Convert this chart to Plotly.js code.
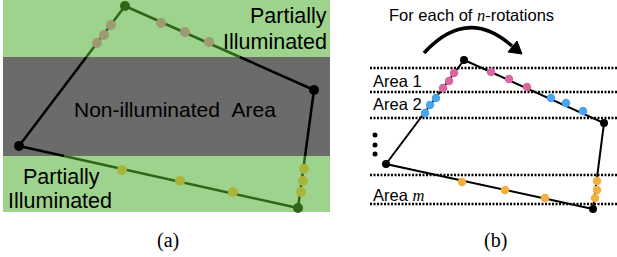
<!DOCTYPE html>
<html><head><meta charset="utf-8">
<script src="https://cdn.plot.ly/plotly-3.0.1.min.js"></script>
<style>html,body{margin:0;padding:0;background:#fff;}#chart{width:617px;height:257px;}</style>
</head><body><div id="chart"></div>
<script>
// ---------- Panel (a) data ----------
const bandA_x = [3, 330];
const bandA_greenTop = [0, 57];
const bandA_gray = [57, 156];
const bandA_greenBottom = [156, 212];
const polyA_x = [125, 314, 298, 19];
const polyA_y = [6, 90, 208, 146];
const polyA_vertexColors = ['#2e6619', '#000000', '#2e6619', '#000000'];
const dotsA_top_x = [111, 104, 97, 161, 185, 209];
const dotsA_top_y = [25, 35, 43, 23, 32, 42];
const dotsA_bot_x = [122, 180, 233, 304, 303, 301];
const dotsA_bot_y = [170, 181, 192, 169, 181, 192];

// ---------- Panel (b) data ----------
const areaLines_y = [68, 92, 118, 175, 204];
const areaLines_x = [370, 617];
const polyB_x = [464, 604, 593, 386];
const polyB_y = [60, 123, 209, 164];
const dotsB_pink_x = [454, 449, 443, 491, 509, 527];
const dotsB_pink_y = [73, 81, 88, 72, 79, 87];
const dotsB_blue_x = [436, 430, 425, 551, 566, 583];
const dotsB_blue_y = [98, 105, 113, 98, 103, 111];
const dotsB_orange_x = [462, 505, 545, 597, 597, 595];
const dotsB_orange_y = [182, 190, 198, 181, 190, 198];
const ellipsis_x = [375, 375, 375];
const ellipsis_y = [135, 145, 154];
const arc_path = [[424, 53], [467, 6], [512, 46]];
const arrowHead = [[522, 54], [517, 41], [508, 52]];

const GREEN_BG = '#9dd38d';
const GRAY_BG = '#6b6b6b';
const DARK_GREEN = '#2e6619';

const traces = [];
const shapes = [];

// bands (a)
shapes.push({type:'rect', xref:'x', yref:'y', x0:bandA_x[0], x1:bandA_x[1], y0:bandA_greenTop[0], y1:bandA_greenTop[1], fillcolor:GREEN_BG, line:{width:0}, layer:'below'});
shapes.push({type:'rect', xref:'x', yref:'y', x0:bandA_x[0], x1:bandA_x[1], y0:bandA_gray[0], y1:bandA_gray[1], fillcolor:GRAY_BG, line:{width:0}, layer:'below'});
shapes.push({type:'rect', xref:'x', yref:'y', x0:bandA_x[0], x1:bandA_x[1], y0:bandA_greenBottom[0], y1:bandA_greenBottom[1], fillcolor:GREEN_BG, line:{width:0}, layer:'below'});

// polygon (a) edges split by band boundaries
const splits = [bandA_gray[0], bandA_gray[1]];
for (let i = 0; i < polyA_x.length; i++) {
  const j = (i + 1) % polyA_x.length;
  const x0 = polyA_x[i], y0 = polyA_y[i], x1 = polyA_x[j], y1 = polyA_y[j];
  const ts = [0, 1];
  splits.forEach(s => { const t = (s - y0) / (y1 - y0); if (t > 0 && t < 1) ts.push(t); });
  ts.sort((a, b) => a - b);
  for (let k = 0; k < ts.length - 1; k++) {
    const ta = ts[k], tb = ts[k + 1];
    const ym = y0 + (y1 - y0) * (ta + tb) / 2;
    const inGray = ym > bandA_gray[0] && ym < bandA_gray[1];
    traces.push({x:[x0 + (x1 - x0) * ta, x0 + (x1 - x0) * tb], y:[y0 + (y1 - y0) * ta, y0 + (y1 - y0) * tb],
      mode:'lines', line:{color: inGray ? '#000000' : DARK_GREEN, width:2.5}, hoverinfo:'skip'});
  }
}
traces.push({x:dotsA_top_x, y:dotsA_top_y, mode:'markers', marker:{size:10, color:'#9f9a74'}, hoverinfo:'skip'});
traces.push({x:dotsA_bot_x, y:dotsA_bot_y, mode:'markers', marker:{size:10, color:'#a9b53a'}, hoverinfo:'skip'});
traces.push({x:polyA_x, y:polyA_y, mode:'markers', marker:{size:10, color:polyA_vertexColors}, hoverinfo:'skip'});

// panel (b) dotted lines
areaLines_y.forEach(y => {
  traces.push({x:areaLines_x, y:[y, y], mode:'lines', line:{color:'#000', width:2.5, dash:'2px,1.5px'}, hoverinfo:'skip'});
});
traces.push({x:polyB_x.concat([polyB_x[0]]), y:polyB_y.concat([polyB_y[0]]), mode:'lines', line:{color:'#000', width:2}, hoverinfo:'skip'});
traces.push({x:dotsB_pink_x, y:dotsB_pink_y, mode:'markers', marker:{size:8.5, color:'#d9669f'}, hoverinfo:'skip'});
traces.push({x:dotsB_blue_x, y:dotsB_blue_y, mode:'markers', marker:{size:8.5, color:'#4aa3ef'}, hoverinfo:'skip'});
traces.push({x:dotsB_orange_x, y:dotsB_orange_y, mode:'markers', marker:{size:8.5, color:'#f1b03d'}, hoverinfo:'skip'});
traces.push({x:polyB_x, y:polyB_y, mode:'markers', marker:{size:8, color:'#000'}, hoverinfo:'skip'});
traces.push({x:ellipsis_x, y:ellipsis_y, mode:'markers', marker:{size:5, color:'#000'}, hoverinfo:'skip'});

// arc + arrowhead
shapes.push({type:'path', xref:'x', yref:'y',
  path:`M ${arc_path[0][0]} ${arc_path[0][1]} Q ${arc_path[1][0]} ${arc_path[1][1]} ${arc_path[2][0]} ${arc_path[2][1]}`,
  line:{color:'#000', width:3.5}, fillcolor:'rgba(0,0,0,0)'});
shapes.push({type:'path', xref:'x', yref:'y',
  path:`M ${arrowHead[0][0]} ${arrowHead[0][1]} L ${arrowHead[1][0]} ${arrowHead[1][1]} L ${arrowHead[2][0]} ${arrowHead[2][1]} Z`,
  line:{color:'#000', width:1}, fillcolor:'#000'});

const SANS = 'Liberation Sans, Arial, Helvetica, sans-serif';
const SERIF = 'Liberation Serif, Times New Roman, serif';
const ann = (x, y, text, size, xanchor, font) => ({x, y, xref:'x', yref:'y', text, showarrow:false,
  xanchor, yanchor:'middle', font:{family: font || SANS, size, color:'#000'}});
const annotations = [
  ann(329, 16, 'Partially', 21.5, 'right'),
  ann(329, 42, 'Illuminated', 21.5, 'right'),
  ann(175, 109, 'Non-illuminated&nbsp;&nbsp;Area', 21, 'center'),
  ann(21, 177, 'Partially', 21.5, 'left'),
  ann(6, 201, 'Illuminated', 21.5, 'left'),
  ann(168, 240, '(a)', 20, 'center', SERIF),
  ann(387, 15, 'For each of <i style="font-family:Liberation Serif">n</i>-rotations', 16.5, 'left'),
  ann(371, 81, 'Area 1', 16.5, 'left'),
  ann(371, 104, 'Area 2', 16.5, 'left'),
  ann(371, 195, 'Area <i style="font-family:Liberation Serif">m</i>', 16.5, 'left'),
  ann(495, 240, '(b)', 20, 'center', SERIF),
];

const layout = {
  width:617, height:257, margin:{l:0, r:0, t:0, b:0},
  paper_bgcolor:'#fff', plot_bgcolor:'#fff', showlegend:false,
  xaxis:{range:[0, 617], visible:false, fixedrange:true},
  yaxis:{range:[257, 0], visible:false, fixedrange:true},
  shapes, annotations
};
Plotly.newPlot('chart', traces, layout, {staticPlot:true, displayModeBar:false});
</script></body></html>
